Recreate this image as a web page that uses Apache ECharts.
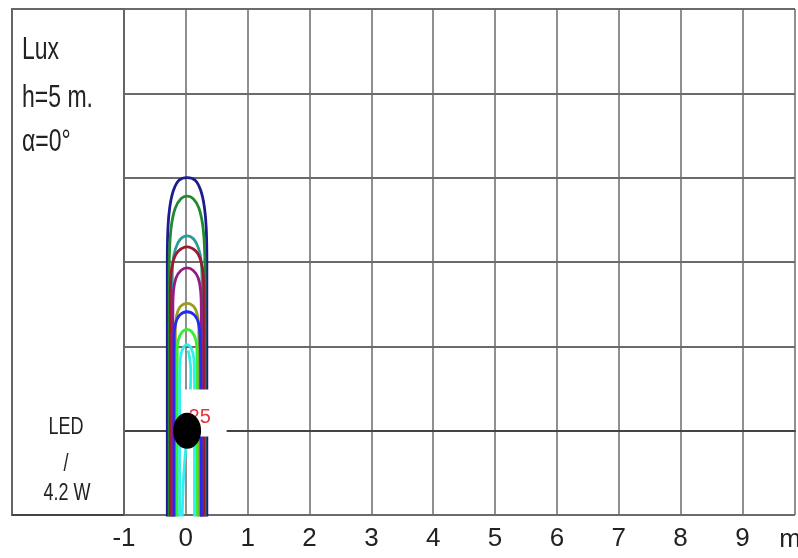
<!DOCTYPE html>
<html>
<head>
<meta charset="utf-8">
<script src="https://cdn.jsdelivr.net/npm/echarts@6/dist/echarts.min.js"></script>
<style>html,body{margin:0;padding:0;background:#fff}#c{width:798px;height:558px}</style>
</head>
<body>
<div id="c"></div>
<script>
// x axis tick values (metres)
const xTicks = [-1, 0, 1, 2, 3, 4, 5, 6, 7, 8, 9];
const xUnit = 'm';
const panelTitle = ['Lux', 'h=5 m.', 'α=0°'];
const lampInfo = ['LED', '/', '4.2 W'];

// isolux curves, [x (m), y (m)] points
const curveNavy = [[-0.30,-1.1],[-0.30,1.0],[-0.30,2.0],[-0.29,2.4],[-0.26,2.65],[-0.20,2.85],[-0.11,2.97],[0.02,3.0],[0.15,2.97],[0.24,2.85],[0.30,2.65],[0.33,2.4],[0.34,2.0],[0.34,1.0],[0.34,-1.1]];
const curveGreen = [[-0.27,-1.1],[-0.27,1.0],[-0.27,1.9],[-0.26,2.2],[-0.23,2.45],[-0.17,2.64],[-0.08,2.75],[0.02,2.78],[0.12,2.75],[0.21,2.64],[0.27,2.45],[0.30,2.2],[0.31,1.9],[0.31,1.0],[0.31,-1.1]];
const curveTeal = [[-0.22,-1.1],[-0.22,1.0],[-0.22,1.8],[-0.21,2.0],[-0.17,2.15],[-0.09,2.27],[0.02,2.31],[0.13,2.27],[0.21,2.15],[0.25,2.0],[0.26,1.8],[0.26,1.0],[0.26,-1.1]];
const curveRed = [[-0.25,-1.1],[-0.25,1.0],[-0.25,1.6],[-0.24,1.85],[-0.20,2.02],[-0.12,2.13],[0.02,2.18],[0.16,2.13],[0.24,2.02],[0.28,1.85],[0.29,1.6],[0.29,1.0],[0.29,-1.1]];
const curvePurple = [[-0.21,-1.1],[-0.21,0.8],[-0.21,1.45],[-0.20,1.65],[-0.16,1.81],[-0.08,1.9],[0.02,1.93],[0.12,1.9],[0.20,1.81],[0.24,1.65],[0.25,1.45],[0.25,0.8],[0.25,-1.1]];
const curveOlive = [[-0.17,-1.1],[-0.17,0.8],[-0.17,1.2],[-0.15,1.36],[-0.09,1.47],[0.02,1.51],[0.13,1.47],[0.19,1.36],[0.21,1.2],[0.21,0.8],[0.21,-1.1]];
const curveBlue = [[-0.19,-1.1],[-0.19,0.8],[-0.19,1.1],[-0.17,1.26],[-0.10,1.37],[0.02,1.41],[0.14,1.37],[0.21,1.26],[0.23,1.1],[0.24,0.8],[0.25,-1.1]];
const curveLime = [[-0.14,-1.1],[-0.14,0.6],[-0.14,0.95],[-0.12,1.08],[-0.06,1.17],[0.02,1.2],[0.10,1.17],[0.16,1.08],[0.18,0.95],[0.18,0.6],[0.18,-1.1]];
const curveCyan = [[-0.10,-1.1],[-0.10,0.5],[-0.09,0.85],[-0.05,0.97],[0.02,1.02],[0.09,0.97],[0.13,0.85],[0.14,0.5],[0.14,-1.1]];
const curveCyan2 = [[-0.06,-1.1],[-0.04,-0.6],[0.0,-0.2],[0.06,0.3],[0.08,0.7],[0.04,0.95]];

const curves = [
  {data: curveNavy, color: '#1c1c8e'},
  {data: curveGreen, color: '#1f8a30'},
  {data: curveTeal, color: '#2a9b9b'},
  {data: curveRed, color: '#9c1a2c'},
  {data: curvePurple, color: '#931b86'},
  {data: curveOlive, color: '#9c9a22'},
  {data: curveBlue, color: '#1f2df0'},
  {data: curveLime, color: '#33ee33'},
  {data: curveCyan, color: '#33eeee'},
  {data: curveCyan2, color: '#33eeee'}
];

const lampPos = [[0.02, 0]];
const valueLabel = {pos: [0.32, 0.21], text: '25'};

const chart = echarts.init(document.getElementById('c'));
const series = curves.map(c => ({
  type: 'line', data: c.data, smooth: 0.4, showSymbol: false, symbol: 'none',
  lineStyle: {color: c.color, width: 2.8}, z: 3, silent: true
}));
series.push({
  type: 'scatter', data: [valueLabel.pos], symbol: 'rect', symbolSize: [42, 47], z: 5, silent: true,
  itemStyle: {opacity: 1, color: '#fff'},
  label: {show: true, position: 'inside', offset: [-6, 4.5], formatter: valueLabel.text, color: '#e8343c',
    fontFamily: 'Liberation Sans', fontSize: 20}
});
series.push({
  type: 'scatter', data: lampPos, symbol: 'circle', symbolSize: [28, 36], z: 6, silent: true,
  itemStyle: {color: '#000', opacity: 1}
});

const txt = (text, x, y, size, align) => ({
  type: 'text', x: x, y: y, scaleY: 1.36, z: 10,
  style: {text: text, fontFamily: 'Liberation Sans, Arial', fontSize: size, fill: '#222',
    align: align, verticalAlign: 'middle'}
});

chart.setOption({
  animation: false,
  backgroundColor: '#fff',
  grid: {left: 124, right: 0, top: 9, bottom: 43, containLabel: false},
  xAxis: {
    type: 'value', min: -1, max: 9.85, interval: 1,
    axisLine: {show: true, lineStyle: {color: '#444', width: 2}},
    axisTick: {show: false},
    axisLabel: {color: '#222', fontFamily: 'Liberation Sans Narrow, Liberation Sans', fontSize: 26, margin: 11,
      formatter: v => (xTicks.indexOf(v) >= 0 ? String(v) : '')},
    splitLine: {show: true, lineStyle: {color: '#6a6a6a', width: 1.5}}
  },
  yAxis: {
    type: 'value', min: -1, max: 5, interval: 1,
    axisLine: {show: false}, axisTick: {show: false}, axisLabel: {show: false},
    splitLine: {show: true, lineStyle: {color: '#3a3a3a', width: 1.5}}
  },
  series: series,
  graphic: [
    {type: 'rect', shape: {x: 12, y: 9, width: 112, height: 506}, z: 1,
      style: {fill: 'none', stroke: '#666', lineWidth: 2}},
    {type: 'line', shape: {x1: 12, y1: 515, x2: 124, y2: 515}, z: 1,
      style: {stroke: '#444', lineWidth: 2}},
    txt(panelTitle[0], 22, 50, 23, 'left'),
    txt(panelTitle[1], 22, 98, 23, 'left'),
    txt(panelTitle[2], 22, 142, 23, 'left'),
    txt(lampInfo[0], 66, 427, 18, 'center'),
    txt(lampInfo[1], 66, 464, 18, 'center'),
    txt(lampInfo[2], 67, 493, 18, 'center'),
    {type: 'text', x: 790, y: 540, z: 10,
      style: {text: xUnit, fontFamily: 'Liberation Sans Narrow, Liberation Sans', fontSize: 26, fill: '#222',
        align: 'center', verticalAlign: 'middle'}}
  ]
});
</script>
</body>
</html>
